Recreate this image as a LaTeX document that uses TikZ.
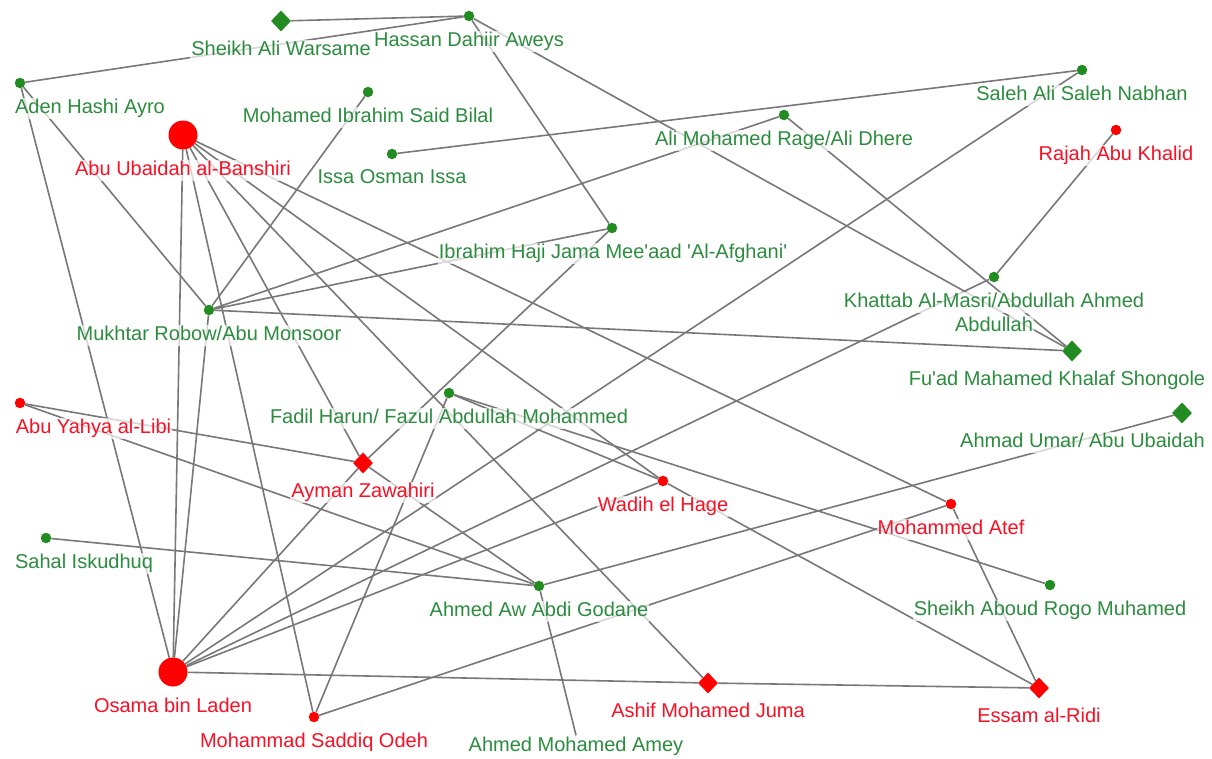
\documentclass[tikz,border=0pt]{standalone}
\usepackage{fontspec}
\newfontfamily\lblfont{Liberation Sans}
\usetikzlibrary{shapes.geometric}
\pgfdeclarelayer{bg}
\pgfsetlayers{bg,main}
\definecolor{ngreen}{RGB}{34,139,34}
\definecolor{tgreen}{RGB}{44,140,62}
\definecolor{nred}{RGB}{255,0,0}
\definecolor{tred}{RGB}{250,16,36}
\definecolor{egray}{RGB}{120,120,120}
\tikzset{
  gdot/.style={circle, fill=ngreen, minimum size=10.5pt, inner sep=0pt},
  rdot/.style={circle, fill=nred, minimum size=10.5pt, inner sep=0pt},
  rbig/.style={circle, fill=nred, minimum size=29pt, inner sep=0pt},
  gdia/.style={diamond, fill=ngreen, minimum width=20pt, minimum height=21pt, inner sep=0pt},
  rdia/.style={diamond, fill=nred, minimum width=20pt, minimum height=21pt, inner sep=0pt},
  lbl/.style={font=\lblfont\fontsize{20pt}{24pt}\selectfont, anchor=base, inner sep=1pt,
              text height=14.5pt, text depth=4.5pt, fill=white, fill opacity=0.7, text opacity=1},
  lg/.style={lbl, text=tgreen},
  lr/.style={lbl, text=tred},
  link/.style={draw=egray, line width=1.6pt}
}
\begin{document}
\begin{tikzpicture}[x=1pt,y=-1pt]
\useasboundingbox (0,0) rectangle (1212,758);
\begin{pgfonlayer}{bg}
\fill[white] (0,0) rectangle (1212,758);
\end{pgfonlayer}
% nodes
\node[gdia] (SAW) at (281,21) {};
\node[gdot] (HDA) at (469,16) {};
\node[gdot] (AHA) at (20,83) {};
\node[gdot] (MISB) at (368,92) {};
\node[rbig] (AUB) at (183,135) {};
\node[gdot] (IOI) at (392,154) {};
\node[gdot] (SASN) at (1082,70) {};
\node[gdot] (AMR) at (784,115) {};
\node[rdot] (RAK) at (1116,130) {};
\node[gdot] (IHJ) at (612,228) {};
\node[gdot] (KAM) at (994,277) {};
\node[gdot] (MRAM) at (209,310) {};
\node[gdia] (FMKS) at (1072,351) {};
\node[gdot] (FH) at (449,393) {};
\node[rdot] (AYL) at (20,403) {};
\node[gdia] (AUAU) at (1182,413) {};
\node[rdia] (AZ) at (363,463) {};
\node[rdot] (WH) at (663,481) {};
\node[rdot] (MA) at (951,504) {};
\node[gdot] (SI) at (46,538) {};
\node[gdot] (AAAG) at (539,586) {};
\node[gdot] (SARM) at (1050,585) {};
\node[rbig] (OBL) at (173,672) {};
\node[rdot] (MSO) at (314,717) {};
\node[rdia] (AMJ) at (708,683) {};
\node[rdia] (ER) at (1039,688) {};
% labels
\node[lg] (SAW-l) at (281,55) {Sheikh Ali Warsame};
\node[lg] (HDA-l) at (469,46) {Hassan Dahiir Aweys};
\node[lg] (AHA-l) at (90,113) {Aden Hashi Ayro};
\node[lg] (MISB-l) at (368,122) {Mohamed Ibrahim Said Bilal};
\node[lr] (AUB-l) at (183,175) {Abu Ubaidah al-Banshiri};
\node[lg] (IOI-l) at (392,183) {Issa Osman Issa};
\node[lg] (SASN-l) at (1082,100) {Saleh Ali Saleh Nabhan};
\node[lg] (AMR-l) at (784,145) {Ali Mohamed Rage/Ali Dhere};
\node[lr] (RAK-l) at (1116,160) {Rajah Abu Khalid};
\node[lg] (IHJ-l) at (613,258) {Ibrahim Haji Jama Mee'aad 'Al-Afghani'};
\node[lg] (KAM-l1) at (994,307) {Khattab Al-Masri/Abdullah Ahmed};
\node[lg] (KAM-l2) at (994,331) {Abdullah};
\node[lg] (MRAM-l) at (209,340) {Mukhtar Robow/Abu Monsoor};
\node[lg] (FMKS-l) at (1057,385) {Fu'ad Mahamed Khalaf Shongole};
\node[lg] (FH-l) at (449,423) {Fadil Harun/ Fazul Abdullah Mohammed};
\node[lr] (AYL-l) at (93.5,433) {Abu Yahya al-Libi};
\node[lg] (AUAU-l) at (1082.5,447) {Ahmad Umar/ Abu Ubaidah};
\node[lr] (AZ-l) at (363,497) {Ayman Zawahiri};
\node[lr] (WH-l) at (663,511) {Wadih el Hage};
\node[lr] (MA-l) at (951,534) {Mohammed Atef};
\node[lg] (SI-l) at (84,568) {Sahal Iskudhuq};
\node[lg] (AAAG-l) at (539,616) {Ahmed Aw Abdi Godane};
\node[lg] (SARM-l) at (1050,615) {Sheikh Aboud Rogo Muhamed};
\node[lr] (OBL-l) at (173,712) {Osama bin Laden};
\node[lr] (MSO-l) at (314,747) {Mohammad Saddiq Odeh};
\node[lr] (AMJ-l) at (708,717) {Ashif Mohamed Juma};
\node[lr] (ER-l) at (1039,722) {Essam al-Ridi};
\node[lg] (AMA) at (576,751) {Ahmed Mohamed Amey};
% edges
\begin{pgfonlayer}{bg}
\foreach \a/\b in {SAW/HDA, HDA/AHA, HDA/IHJ, HDA/FMKS, AHA/MRAM, AHA/OBL,
  MISB/MRAM, IOI/SASN, SASN/OBL, AMR/MRAM, AMR/FMKS, RAK/KAM, KAM/OBL,
  IHJ/MRAM, IHJ/AZ, MRAM/FMKS, MRAM/OBL, AUB/OBL, AUB/MSO, AUB/AZ, AUB/AMJ,
  AUB/WH, AUB/MA, AYL/AZ, AYL/AAAG, AZ/OBL, AZ/AAAG, SI/AAAG, AAAG/AUAU,
  FH/MSO, FH/WH, FH/SARM, WH/OBL, WH/ER, MA/MSO, MA/ER, OBL/AMJ, AMJ/ER}
  \draw[link] (\a) -- (\b);
\draw[link] (AAAG) -- (AMA.north);
\end{pgfonlayer}
\end{tikzpicture}
\end{document}
